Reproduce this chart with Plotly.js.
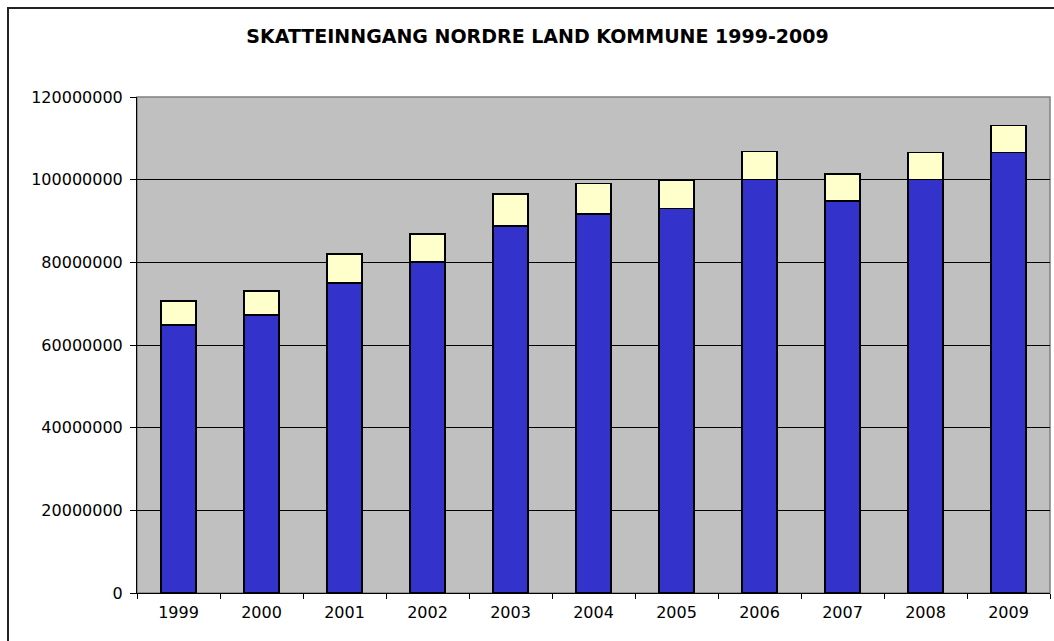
<!DOCTYPE html>
<html>
<head>
<meta charset="utf-8">
<script src="https://cdn.plot.ly/plotly-3.0.1.min.js"></script>
<style>
html,body{margin:0;padding:0;background:#fff;overflow:hidden;}
#wrap{position:relative;width:1054px;height:641px;}
#frame{position:absolute;left:7px;top:7px;width:1100px;height:700px;border-left:2px solid #222;border-top:2px solid #222;pointer-events:none;}
#chart{position:absolute;left:0;top:0;width:1054px;height:641px;}
</style>
</head>
<body>
<div id="wrap"><div id="chart"></div><div id="frame"></div></div>
<script>
const years = ['1999','2000','2001','2002','2003','2004','2005','2006','2007','2008','2009'];
const baseValues = [64800000, 67200000, 75000000, 80100000, 88800000, 91700000, 93000000, 100000000, 94800000, 100000000, 106600000];
const topValues = [5800000, 5900000, 7000000, 6800000, 7700000, 7400000, 6900000, 6800000, 6600000, 6600000, 6500000];
const yTicks = [0, 20000000, 40000000, 60000000, 80000000, 100000000, 120000000];
const yTickLabels = ['0','20000000','40000000','60000000','80000000','100000000','120000000'];

const traces = [
  {type:'bar', x:years, y:baseValues, name:'Skatt',
   marker:{color:'#3333CC', line:{color:'#000', width:1.5}}, hoverinfo:'x+y'},
  {type:'bar', x:years, y:topValues, name:'Tillegg',
   marker:{color:'#FFFFCC', line:{color:'#000', width:1.5}}, hoverinfo:'x+y'}
];

const tickFont = {family:'DejaVu Sans, Arial, sans-serif', size:16, color:'#000'};

const layout = {
  width:1054, height:641,
  margin:{l:137, r:4, t:97, b:48},
  paper_bgcolor:'rgba(0,0,0,0)',
  plot_bgcolor:'#C0C0C0',
  barmode:'stack',
  bargap:0.58,
  showlegend:false,
  font:tickFont,
  title:{text:'<b>SKATTEINNGANG NORDRE LAND KOMMUNE 1999-2009</b>',
         font:{family:'DejaVu Sans, Arial, sans-serif', size:19, color:'#000'},
         x:0.51, xanchor:'center', xref:'container', y:0.943, yref:'container', yanchor:'middle'},
  xaxis:{type:'category', showgrid:false, showline:true, linecolor:'#000', linewidth:1,
         ticks:'outside', tickson:'boundaries', ticklen:5, tickcolor:'#000',
         ticklabelstandoff:5, tickfont:tickFont, mirror:false},
  yaxis:{range:[0,120000000], tickvals:yTicks, ticktext:yTickLabels,
         showgrid:true, gridcolor:'#000', gridwidth:1, zeroline:false,
         showline:true, linecolor:'#000', linewidth:1, ticks:'outside', ticklen:6, tickcolor:'#000',
         ticklabelstandoff:4, tickfont:tickFont},
  shapes:[
    {type:'rect', xref:'paper', yref:'paper', x0:0, x1:1, y0:0, y1:1,
     line:{color:'#808080', width:1.5}, fillcolor:'rgba(0,0,0,0)', layer:'below'}
  ]
};

Plotly.newPlot('chart', traces, layout, {displayModeBar:false, staticPlot:true});
</script>
</body>
</html>
